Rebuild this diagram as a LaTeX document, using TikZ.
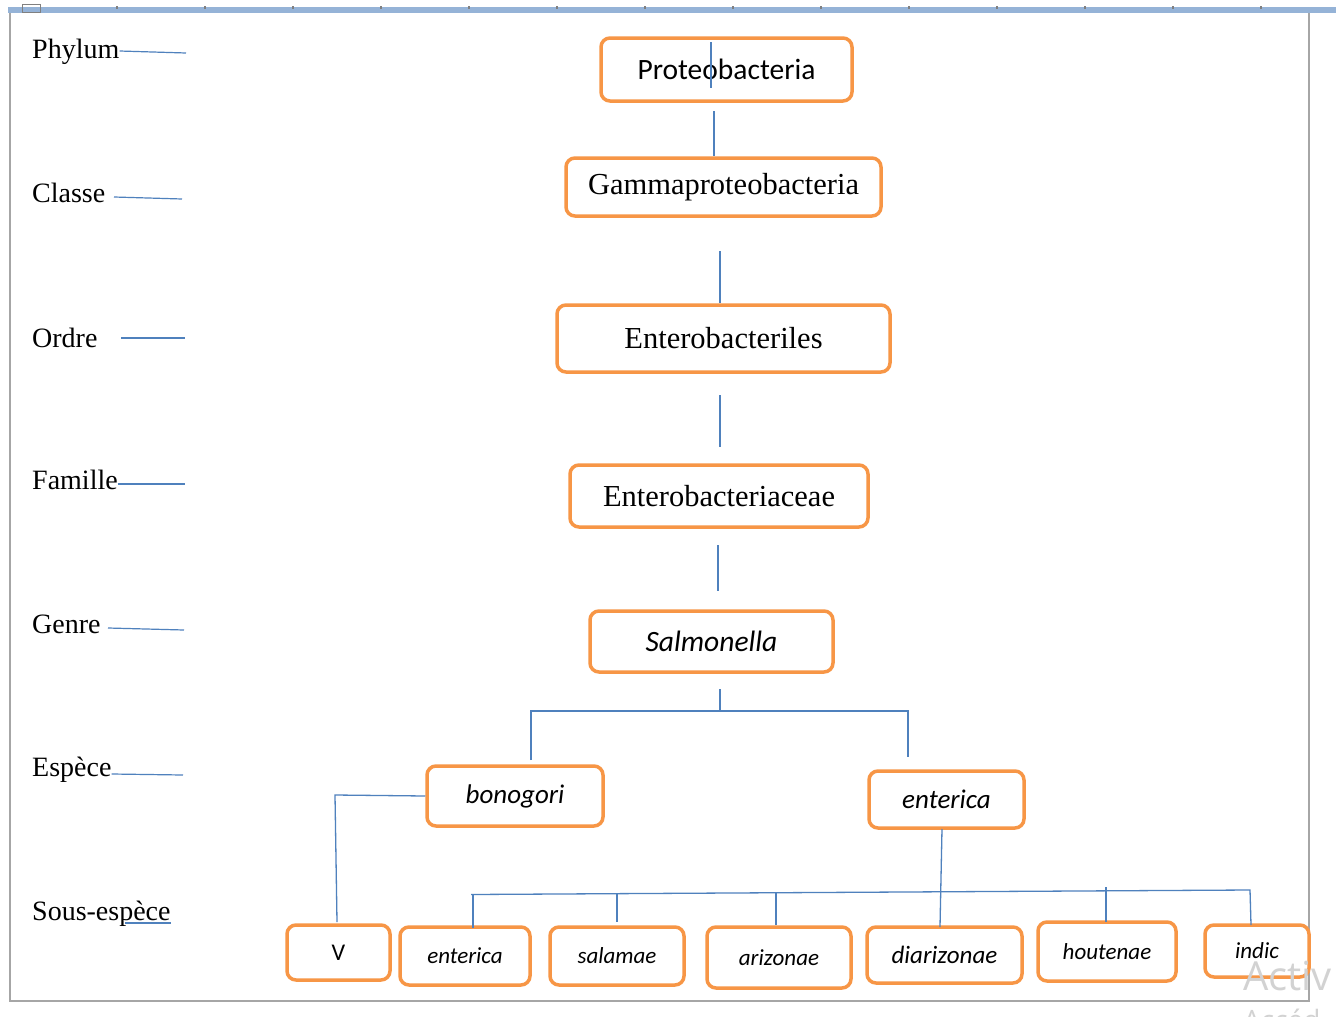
\documentclass[tikz,border=0pt]{standalone}
\usepackage{fontspec}
\setmainfont{Liberation Serif}
\newfontfamily\carl{Carlito}
\newfontfamily\wmfont{Open Sans}
\definecolor{boxor}{HTML}{F79646}
\definecolor{lnblue}{HTML}{4F81BD}
\definecolor{topblue}{HTML}{95B3D7}
\definecolor{framegray}{HTML}{A6A6A6}
\begin{document}
\begin{tikzpicture}[x=1pt,y=-1pt,
 tbox/.style={draw=boxor, line width=3.5pt, rounded corners=9pt, fill=white, inner sep=0pt, align=center},
 conn/.style={draw=lnblue, line width=1.3pt},
 lvl/.style={anchor=base west, inner sep=0pt, font=\fontsize{28}{30}\selectfont},
 lvlline/.style={draw=lnblue, line width=1.2pt},
 serifbig/.style={font=\fontsize{30.5}{33}\selectfont},
 sansbig/.style={font=\carl\fontsize{29.5}{32}\selectfont},
 spfont/.style={font=\carl\itshape\fontsize{27}{30}\selectfont},
 ssfont/.style={font=\carl\itshape\fontsize{23}{26}\selectfont},
]
\useasboundingbox (0,0) rectangle (1336,1017);
\fill[white] (0,0) rectangle (1336,1017);
% page frame
\fill[topblue] (8,7) rectangle (1336,13);
\foreach \tx in {117,205,293,381,469,557,645,733,821,909,997,1085,1173,1261}
  \fill[gray] (\tx-0.7,6) rectangle (\tx+0.7,9);
\draw[gray, line width=0.8pt] (22,4) rectangle (40,12);
\draw[framegray, line width=2pt] (10,13) -- (10,1001) -- (1309,1001) -- (1309,13);

% level labels
\node[lvl] (lphy) at (32,58) {Phylum};
\node[lvl] (lcla) at (32,202) {Classe};
\node[lvl] (lord) at (32,347) {Ordre};
\node[lvl] (lfam) at (32,489) {Famille};
\node[lvl] (lgen) at (32,633) {Genre};
\node[lvl] (lesp) at (32,776) {Espèce};
\node[lvl] (lsse) at (32,920) {Sous-espèce};
\coordinate (ephy) at (186,53);
\coordinate (ecla) at (182,199);
\coordinate (eord) at (185,338);
\coordinate (efam) at (185,484);
\coordinate (egen) at (184,630);
\coordinate (eesp) at (183,775);
\coordinate (usse1) at (125,923);
\coordinate (usse2) at (171,923);
\draw[lvlline] (lphy.base east) ++(0,-7) -- (ephy);
\draw[lvlline] (114,197) -- (ecla);
\draw[lvlline] (121,338) -- (eord);
\draw[lvlline] (lfam.base east) ++(0,-5) -- (efam);
\draw[lvlline] (108,628) -- (egen);
\draw[lvlline] (lesp.base east) ++(0,-2) -- (eesp);
\draw[lvlline] (usse1) -- (usse2);

% taxonomy boxes
\node[tbox, sansbig, minimum width=251, minimum height=63] (pro) at (726.5,69.5) {Proteobacteria};
\node[tbox, serifbig, minimum width=315, minimum height=58] (gam) at (723.5,187) {Gammaproteobacteria};
\node[tbox, serifbig, minimum width=333, minimum height=67] (ord) at (723.5,338.5) {Enterobacteriles};
\node[tbox, serifbig, minimum width=298, minimum height=62] (fam) at (719,496) {Enterobacteriaceae};
\node[tbox, font=\carl\itshape\fontsize{29.5}{32}\selectfont, minimum width=243, minimum height=61] (sal) at (711.5,641.5) {Salmonella};
\node[tbox, spfont, minimum width=176, minimum height=60] (bon) at (515,796) {bonogori};
\node[tbox, spfont, minimum width=155, minimum height=57] (ent) at (946.5,799.5) {enterica};
\node[tbox, font=\carl\fontsize{24}{26}\selectfont, minimum width=103, minimum height=55] (sv) at (338.5,952.5) {V};
\node[tbox, ssfont, minimum width=130, minimum height=58] (sent) at (465,956) {enterica};
\node[tbox, ssfont, minimum width=134, minimum height=58] (ssal) at (617,956) {salamae};
\node[tbox, ssfont, minimum width=144, minimum height=61] (sari) at (779,957.5) {arizonae};
\node[tbox, font=\carl\itshape\fontsize{25}{28}\selectfont, minimum width=155, minimum height=56] (sdia) at (944.5,955) {diarizonae};
\node[tbox, ssfont, minimum width=138, minimum height=59] (shou) at (1107,951.5) {houtenae};
\node[tbox, ssfont, minimum width=104, minimum height=52] (sind) at (1257,951) {indic};

% connectors
\coordinate (pin1) at (711,42);
\coordinate (pin2) at (711,88);
\draw[conn] (pin1) -- (pin2);
\coordinate (pg1) at (714,111);
\draw[conn] (pg1) -- (gam.north -| pg1);
\coordinate (go1) at (720,251);
\draw[conn] (go1) -- (ord.north -| go1);
\coordinate (of1) at (720,395);
\coordinate (of2) at (720,447);
\draw[conn] (of1) -- (of2);
\coordinate (fs1) at (718,545);
\coordinate (fs2) at (718,591);
\draw[conn] (fs1) -- (fs2);
\coordinate (sj) at (720,711);
\coordinate (sbl) at (531,711);
\coordinate (sbr) at (908,711);
\coordinate (sbe) at (531,760);
\coordinate (see) at (908,757);
\draw[conn] (720,689) -- (sj);
\draw[conn] (sbe) -- (sbl) -- (sbr) -- (see);
\coordinate (bv1) at (335,795);
\coordinate (bv2) at (337,922);
\draw[conn] (bon.west) -- (bv1) -- (bv2);
\coordinate (ed1) at (942,829);
\coordinate (ed2) at (940,927);
\draw[conn] (ed1) -- (ed2);
\coordinate (hl) at (471,894.5);
\coordinate (hr) at (1250,890);
\coordinate (hre) at (1251,925);
\draw[conn] (hl) -- (hr) -- (hre);
\draw[conn] (473,894.5) -- (473,928);
\draw[conn] (617,893.5) -- (617,922);
\draw[conn] (776,893) -- (776,925);
\draw[conn] (1106,887) -- (1106,922);

% watermark
\node[anchor=base west, inner sep=0pt, text=gray!35, font=\wmfont\fontsize{40}{44}\selectfont] (wm1) at (1243,990) {Activ};
\node[anchor=base west, inner sep=0pt, text=gray!35, font=\wmfont\fontsize{28}{30}\selectfont] (wm2) at (1243,1030) {Accéd};
\end{tikzpicture}
\end{document}
